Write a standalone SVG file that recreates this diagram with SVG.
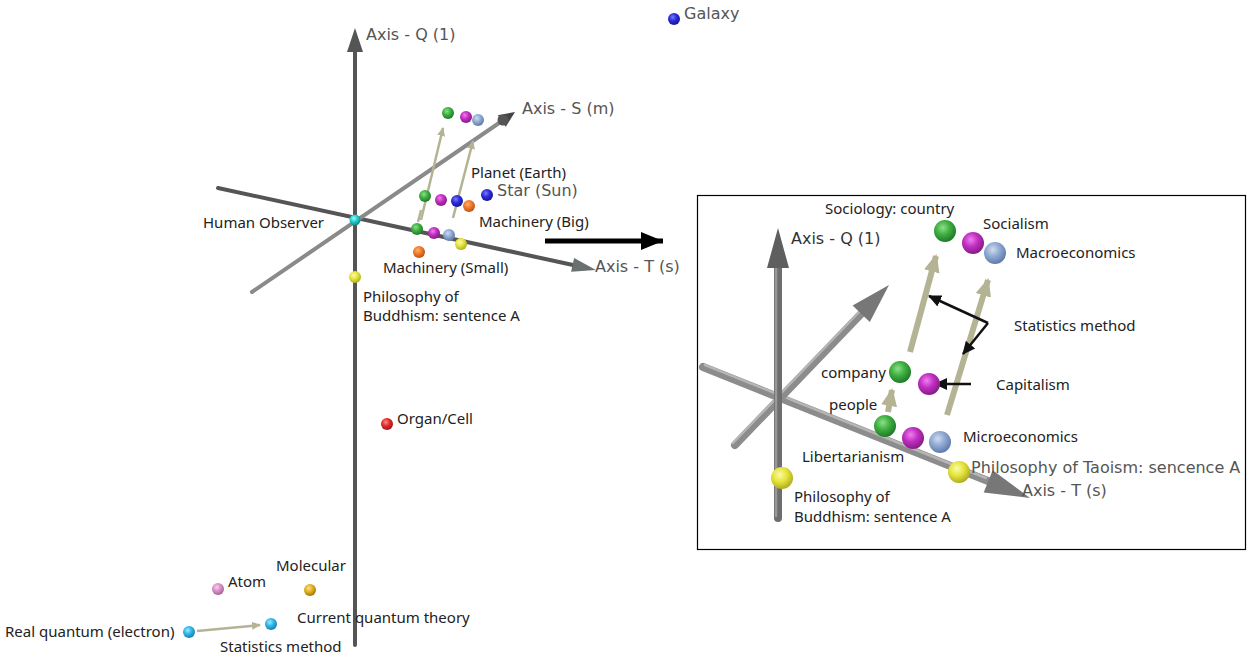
<svg xmlns="http://www.w3.org/2000/svg" width="1252" height="658" viewBox="0 0 1252 658">
<style>
text{font-family:"Noto Sans","Liberation Sans",sans-serif;font-size:15px;fill:#222}
.ax{font-family:"DejaVu Sans","Noto Sans",sans-serif;font-size:16px;fill:#555}
.rodL{stroke:#555;stroke-width:4;stroke-linecap:round}
.rodS{stroke:#8a8a8a;stroke-width:4;stroke-linecap:round}
.rod{stroke:#8c8c8c;stroke-width:8;stroke-linecap:round}
.rodhi{stroke:#b5b5b5;stroke-width:2.5;stroke-linecap:round}
.tan{stroke:#b4b394;fill:none}
.blk{stroke:#111;stroke-width:2.5;fill:none}
</style>
<defs>
<radialGradient id="gG" cx="0.4" cy="0.35" r="0.65"><stop offset="0" stop-color="#8be08b"/><stop offset="0.5" stop-color="#3fae3f"/><stop offset="1" stop-color="#1f7a2a"/></radialGradient>
<radialGradient id="gM" cx="0.4" cy="0.35" r="0.65"><stop offset="0" stop-color="#f07ef0"/><stop offset="0.5" stop-color="#c02ec0"/><stop offset="1" stop-color="#861c86"/></radialGradient>
<radialGradient id="gB" cx="0.4" cy="0.35" r="0.65"><stop offset="0" stop-color="#cfdcf0"/><stop offset="0.5" stop-color="#8fa9d3"/><stop offset="1" stop-color="#5f7ba8"/></radialGradient>
<radialGradient id="gD" cx="0.4" cy="0.35" r="0.65"><stop offset="0" stop-color="#7a7aff"/><stop offset="0.5" stop-color="#2b2bd8"/><stop offset="1" stop-color="#17179a"/></radialGradient>
<radialGradient id="gO" cx="0.4" cy="0.35" r="0.65"><stop offset="0" stop-color="#ffb070"/><stop offset="0.5" stop-color="#f0782a"/><stop offset="1" stop-color="#b8551a"/></radialGradient>
<radialGradient id="gY" cx="0.4" cy="0.35" r="0.65"><stop offset="0" stop-color="#fbfbaa"/><stop offset="0.5" stop-color="#e6e43c"/><stop offset="1" stop-color="#b0ae20"/></radialGradient>
<radialGradient id="gC" cx="0.4" cy="0.35" r="0.65"><stop offset="0" stop-color="#9fe9ff"/><stop offset="0.5" stop-color="#2fb6e8"/><stop offset="1" stop-color="#1a7fb0"/></radialGradient>
<radialGradient id="gT" cx="0.4" cy="0.35" r="0.65"><stop offset="0" stop-color="#9ff"/><stop offset="0.5" stop-color="#2cc"/><stop offset="1" stop-color="#188"/></radialGradient>
<radialGradient id="gR" cx="0.4" cy="0.35" r="0.65"><stop offset="0" stop-color="#ff8a8a"/><stop offset="0.5" stop-color="#e02a2a"/><stop offset="1" stop-color="#a01818"/></radialGradient>
<radialGradient id="gP" cx="0.4" cy="0.35" r="0.65"><stop offset="0" stop-color="#f6d0ec"/><stop offset="0.5" stop-color="#d890c8"/><stop offset="1" stop-color="#a86098"/></radialGradient>
<radialGradient id="gK" cx="0.4" cy="0.35" r="0.65"><stop offset="0" stop-color="#ffe090"/><stop offset="0.5" stop-color="#e0b020"/><stop offset="1" stop-color="#a07810"/></radialGradient>
<marker id="mTanS" markerUnits="userSpaceOnUse" markerWidth="10" markerHeight="10" refX="8" refY="5" orient="auto"><path d="M0,1 L9,5 L0,9 Z" fill="#b4b394"/></marker>
<marker id="mTanL" markerUnits="userSpaceOnUse" markerWidth="20" markerHeight="20" refX="16" refY="10" orient="auto"><path d="M0,2 L18,10 L0,18 Z" fill="#b4b394"/></marker>
<marker id="mBlk" markerUnits="userSpaceOnUse" markerWidth="14" markerHeight="14" refX="12" refY="7" orient="auto"><path d="M0,1 L13,7 L0,13 Z" fill="#111"/></marker>
<marker id="mBig" markerUnits="userSpaceOnUse" markerWidth="24" markerHeight="20" refX="22" refY="10" orient="auto"><path d="M0,1 L22,10 L0,19 Z" fill="#000"/></marker>
</defs>

<!-- left 3D plot axes -->
<g id="axes-left">
<line class="rodL" x1="218" y1="188" x2="573" y2="265"/>
<polygon points="596,270 571.1,271.7 574.1,258.1" fill="#6a7070"/>
<line class="rodS" x1="252" y1="292" x2="502" y2="121"/>
<polygon points="515,112 505.8,126.8 497.8,115.2" fill="#444"/>
<circle cx="503" cy="120" r="5.5" fill="#555"/>
<line class="rodL" x1="355" y1="645" x2="355" y2="50"/>
<polygon points="355,28 347,52 363,52" fill="#555"/>
</g>

<g id="connectors">
<line class="tan" stroke-width="2.5" x1="421" y1="220" x2="443" y2="128" marker-end="url(#mTanS)"/>
<line class="tan" stroke-width="2.5" x1="453" y1="218" x2="473" y2="141" marker-end="url(#mTanS)"/>
<line class="tan" stroke-width="2.5" x1="418" y1="222" x2="421" y2="210"/>
<line class="tan" stroke-width="2.5" x1="197" y1="631" x2="260" y2="625" marker-end="url(#mTanS)"/>
<line stroke="#000" stroke-width="5" x1="545" y1="241" x2="663" y2="241" marker-end="url(#mBig)"/>
</g>

<!-- left plot nodes -->
<g id="n-top-row"><circle cx="448" cy="113" r="6" fill="url(#gG)"/><circle cx="466" cy="117" r="6" fill="url(#gM)"/><circle cx="478" cy="120" r="6" fill="url(#gB)"/></g>
<g id="n-mid-row"><circle cx="425" cy="196" r="6" fill="url(#gG)"/><circle cx="441" cy="200" r="6" fill="url(#gM)"/><circle cx="457" cy="201" r="6" fill="url(#gD)"/><circle cx="469" cy="206" r="6" fill="url(#gO)"/></g>
<g id="n-star"><circle cx="487" cy="195" r="6" fill="url(#gD)"/><text class="ax" x="497" y="196">Star (Sun)</text></g>
<g id="n-planet"><text x="471" y="178">Planet (Earth)</text></g>
<g id="n-low-row"><circle cx="417" cy="229" r="6" fill="url(#gG)"/><circle cx="434" cy="233" r="6" fill="url(#gM)"/><circle cx="449" cy="235" r="6" fill="url(#gB)"/></g>
<g id="n-mach-big"><circle cx="461" cy="244" r="6" fill="url(#gY)"/><text x="479" y="227">Machinery (Big)</text></g>
<g id="n-mach-small"><circle cx="419" cy="252" r="6" fill="url(#gO)"/><text x="383" y="273">Machinery (Small)</text></g>
<g id="n-observer"><circle cx="355" cy="220" r="5.5" fill="url(#gT)"/><text x="203" y="228">Human Observer</text></g>
<g id="n-buddhism"><circle cx="355" cy="277" r="6" fill="url(#gY)"/><text x="363" y="302">Philosophy of</text><text x="363" y="321">Buddhism: sentence A</text></g>
<g id="n-organ"><circle cx="387" cy="424" r="6" fill="url(#gR)"/><text x="397" y="424">Organ/Cell</text></g>
<g id="n-galaxy"><circle cx="674" cy="19" r="6" fill="url(#gD)"/><text class="ax" x="684" y="19">Galaxy</text></g>
<g id="n-molecular"><circle cx="310" cy="590" r="6" fill="url(#gK)"/><text x="276" y="571">Molecular</text></g>
<g id="n-atom"><circle cx="218" cy="589" r="6" fill="url(#gP)"/><text x="228" y="587">Atom</text></g>
<g id="n-current"><circle cx="271" cy="624" r="6" fill="url(#gC)"/><text x="297" y="623">Current quantum theory</text><text x="220" y="652">Statistics method</text></g>
<g id="n-real"><circle cx="189" cy="632" r="6" fill="url(#gC)"/><text x="5" y="637">Real quantum (electron)</text></g>
<g id="labels-left-axes"><text class="ax" x="366" y="40">Axis - Q (1)</text><text class="ax" x="522" y="114">Axis - S (m)</text><text class="ax" x="595" y="272">Axis - T (s)</text></g>

<!-- inset -->
<g id="inset">
<rect x="697.5" y="195.5" width="548" height="354" fill="#fff" stroke="#000" stroke-width="1.2"/>
<g id="inset-axes">
<line class="rod" x1="703" y1="367" x2="988" y2="481"/>
<line class="rodhi" x1="705" y1="365" x2="986" y2="478"/>
<polygon points="1030,498 983.7,492.4 992.7,470.2" fill="#777"/>
<line class="rod" x1="735" y1="445" x2="861" y2="314"/>
<line class="rodhi" x1="733" y1="443" x2="859" y2="312"/>
<polygon points="889,285 869.8,322.1 852.6,305.5" fill="#777"/>
<line class="rod" x1="778" y1="518" x2="778" y2="268" style="stroke:#6e6e6e"/>
<line class="rodhi" x1="776" y1="516" x2="776" y2="268" style="stroke:#999"/>
<polygon points="778,228 767,268 789,268" fill="#5e5e5e"/>
</g>
<g id="inset-connectors">
<line class="tan" stroke-width="6" x1="888" y1="412" x2="892" y2="390" marker-end="url(#mTanL)"/>
<line class="tan" stroke-width="6" x1="910" y1="352" x2="936" y2="256" marker-end="url(#mTanL)"/>
<line class="tan" stroke-width="6" x1="947" y1="415" x2="988" y2="280" marker-end="url(#mTanL)"/>
<polyline class="blk" points="988,323 929,296" marker-end="url(#mBlk)"/>
<polyline class="blk" points="988,323 963,354" marker-end="url(#mBlk)"/>
<line class="blk" x1="971" y1="384" x2="935" y2="384" marker-end="url(#mBlk)"/>
</g>
<g id="i-sociology"><circle cx="945" cy="231" r="11" fill="url(#gG)"/><text x="825" y="214">Sociology: country</text></g>
<g id="i-socialism"><circle cx="973" cy="243" r="11" fill="url(#gM)"/><text x="983" y="229">Socialism</text></g>
<g id="i-macro"><circle cx="995" cy="253" r="11" fill="url(#gB)"/><text x="1016" y="258">Macroeconomics</text></g>
<g id="i-company"><circle cx="900" cy="372" r="11" fill="url(#gG)"/><text x="821" y="378">company</text></g>
<g id="i-capitalism"><circle cx="929" cy="384" r="11" fill="url(#gM)"/><text x="996" y="390">Capitalism</text></g>
<g id="i-people"><circle cx="885" cy="426" r="11" fill="url(#gG)"/><text x="829" y="410">people</text></g>
<g id="i-libertarianism"><circle cx="913" cy="438" r="11" fill="url(#gM)"/><text x="802" y="462">Libertarianism</text></g>
<g id="i-micro"><circle cx="940" cy="442" r="11" fill="url(#gB)"/><text x="963" y="442">Microeconomics</text></g>
<g id="i-taoism"><circle cx="959" cy="472" r="11" fill="url(#gY)"/><text class="ax" x="971" y="473">Philosophy of Taoism: sencence A</text></g>
<g id="i-buddhism"><circle cx="782" cy="478" r="11" fill="url(#gY)"/><text x="794" y="502">Philosophy of</text><text x="794" y="522">Buddhism: sentence A</text></g>
<g id="i-labels"><text x="1014" y="331">Statistics method</text><text class="ax" x="791" y="244" style="fill:#333">Axis - Q (1)</text><text class="ax" x="1022" y="496">Axis - T (s)</text></g>
</g>
</svg>
